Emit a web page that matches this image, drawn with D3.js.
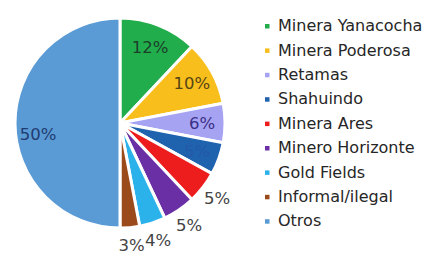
<!DOCTYPE html>
<html lang="es">

<head>
    <meta charset="UTF-8">
    <title>Pie chart</title>
    <script src="https://d3js.org/d3.v7.min.js"></script>

    <style>
        body {
            margin: 0;
            background: #fff;
        }

        svg {
            display: block;
            font-family: "DejaVu Sans", "Liberation Sans", Arial, sans-serif;
        }
    </style>

</head>

<body>
    <svg id="chart" width="426" height="255"></svg>

    <script>
        // data
        const companies = ["Minera Yanacocha", "Minera Poderosa", "Retamas", "Shahuindo", "Minera Ares",
            "Minero Horizonte", "Gold Fields", "Informal/ilegal", "Otros"];
        const shares = [12, 10, 6, 5, 5, 5, 4, 3, 50];

        const sliceColors = ["#21ad4b", "#f8bf1c", "#a6a3f2", "#1f62ae", "#ee1d1d",
            "#6a2fa5", "#2bb2ea", "#9b4a1b", "#5b9bd5"];
        const labelColors = ["#1c3f2a", "#574514", "#3b2f86", "#2458a8", "#444",
            "#444", "#444", "#444", "#1f3c72"];
        // labels of the thin slices sit outside the pie
        const labelOutside = [false, false, false, false, true, true, true, true, false];

        function program() {
            const svg = d3.select("#chart");

            const cx = 120, cy = 123, r = 105;

            const pie = d3.pie().sort(null).value(d => d);
            const arcs = pie(shares);

            const arc = d3.arc().innerRadius(0).outerRadius(r);
            const inLabel = d3.arc().innerRadius(82).outerRadius(82);
            const outLabel = d3.arc().innerRadius(123).outerRadius(123);

            const g = svg.append("g")
                .attr("transform", `translate(${cx},${cy})`);

            g.selectAll("path")
                .data(arcs)
                .join("path")
                .attr("d", arc)
                .style("fill", (d, i) => sliceColors[i])
                .style("stroke", "#fff")
                .style("stroke-width", 3)
                .style("stroke-linejoin", "round");

            g.selectAll("text")
                .data(arcs)
                .join("text")
                .attr("transform", (d, i) => {
                    const c = (labelOutside[i] ? outLabel : inLabel).centroid(d);
                    // the big slice label sits a little below the middle
                    if (i === 8) c[1] += 11;
                    return `translate(${c})`;
                })
                .attr("text-anchor", "middle")
                .attr("dy", "0.36em")
                .style("font-size", "16.5px")
                .style("fill", (d, i) => labelColors[i])
                .text(d => d.data + "%");

            // legend
            const legendY = d3.scaleBand()
                .domain(companies)
                .range([13.3, 13.3 + 24.4 * companies.length]);

            const legend = svg.append("g")
                .selectAll("g")
                .data(companies)
                .join("g")
                .attr("transform", d => `translate(267,${legendY(d) + legendY.bandwidth() / 2})`);

            legend.append("rect")
                .attr("x", -2)
                .attr("y", -1.5)
                .attr("width", 4.5)
                .attr("height", 4.5)
                .style("fill", (d, i) => sliceColors[i]);

            legend.append("text")
                .attr("x", 11)
                .attr("dy", "0.36em")
                .style("font-size", "16px")
                .style("fill", "#262626")
                .text(d => d);
        }

        program();
    </script>

</body>

</html>
